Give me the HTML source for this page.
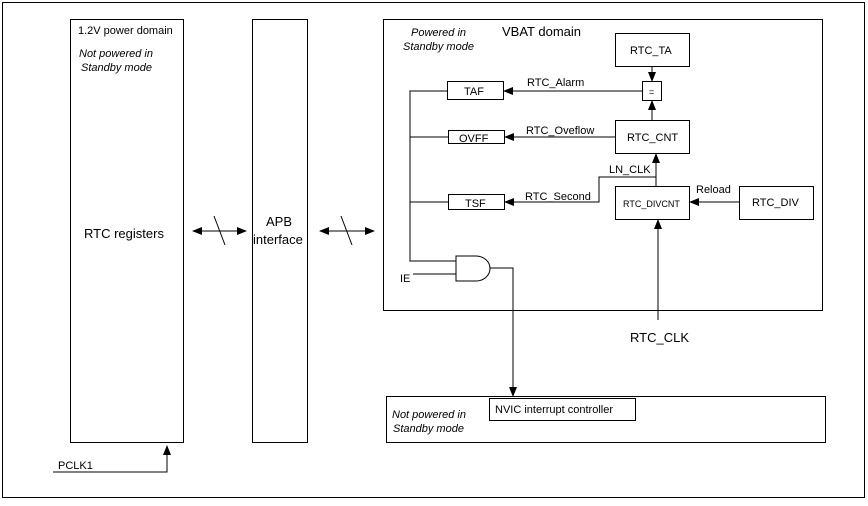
<!DOCTYPE html>
<html><head><meta charset="utf-8"><style>
html,body{margin:0;padding:0;background:#fff}
svg text{font-family:"Liberation Sans",sans-serif;fill:#000}
</style></head><body>
<svg width="868" height="501" xmlns="http://www.w3.org/2000/svg">
<defs>
<marker id="a" markerWidth="10" markerHeight="8" refX="9" refY="4" orient="auto-start-reverse" markerUnits="userSpaceOnUse"><path d="M0,0 L10,4 L0,8z" fill="#000"/></marker>
</defs>
<g fill="none" stroke="#000" stroke-width="1">
<rect x="2.5" y="2.5" width="862" height="495"/>
<rect x="70.5" y="19.5" width="113" height="423"/>
<rect x="252.5" y="19.5" width="55" height="423"/>
<rect x="383.5" y="19.5" width="439" height="291"/>
<rect x="386.5" y="396.5" width="439" height="46"/>
<rect x="489.5" y="398.5" width="146" height="22"/>
<rect x="615.5" y="33.5" width="74" height="33"/>
<rect x="642.5" y="81.5" width="19" height="19"/>
<rect x="615.5" y="120.5" width="74" height="33"/>
<rect x="615.5" y="186.5" width="74" height="33"/>
<rect x="739.5" y="186.5" width="74" height="33"/>
<rect x="447.5" y="81.5" width="56" height="18"/>
<rect x="448.5" y="130.5" width="56" height="13"/>
<rect x="448.5" y="194.5" width="56" height="15"/>
<line x1="193" y1="231" x2="246" y2="231" marker-start="url(#a)" marker-end="url(#a)"/>
<line x1="214" y1="216" x2="225" y2="245"/>
<line x1="320" y1="231" x2="374" y2="231" marker-start="url(#a)" marker-end="url(#a)"/>
<line x1="341" y1="216" x2="352" y2="245"/>
<polyline points="53,472 167,472 167,446" marker-end="url(#a)"/>
<line x1="652" y1="67" x2="652" y2="81" marker-end="url(#a)"/>
<line x1="652" y1="120" x2="652" y2="101" marker-end="url(#a)"/>
<line x1="642" y1="91" x2="504" y2="91" marker-end="url(#a)"/>
<line x1="615" y1="137" x2="505" y2="137" marker-end="url(#a)"/>
<line x1="656" y1="186" x2="656" y2="154" marker-end="url(#a)"/>
<polyline points="656,177 599,177 599,202 505,202" marker-end="url(#a)"/>
<line x1="739" y1="202" x2="690" y2="202" marker-end="url(#a)"/>
<line x1="658" y1="320" x2="658" y2="220" marker-end="url(#a)"/>
<polyline points="447,91 410,91 410,261 456,261"/>
<line x1="410" y1="137" x2="448" y2="137"/>
<line x1="410" y1="202" x2="448" y2="202"/>
<line x1="413" y1="274" x2="456" y2="274"/>
<path d="M456,256 L476,256 A14,12.5 0 0 1 476,281 L456,281 Z"/>
<polyline points="490,268 513,268 513,396" marker-end="url(#a)"/>
</g>
<g font-size="11">
<text x="78" y="34">1.2V power domain</text>
<text x="79" y="57" font-style="italic">Not powered in</text>
<text x="81" y="71" font-style="italic">Standby mode</text>
<text x="84" y="238" font-size="13">RTC registers</text>
<text x="266" y="226" font-size="13">APB</text>
<text x="253" y="244" font-size="13">interface</text>
<text x="58" y="469">PCLK1</text>
<text x="411" y="36" font-style="italic">Powered in</text>
<text x="403" y="50" font-style="italic">Standby mode</text>
<text x="502" y="36" font-size="13">VBAT domain</text>
<text x="630" y="54">RTC_TA</text>
<text x="649" y="95" font-size="9">=</text>
<text x="627" y="141">RTC_CNT</text>
<text x="623" y="207" font-size="9">RTC_DIVCNT</text>
<text x="752" y="206">RTC_DIV</text>
<text x="464" y="95">TAF</text>
<text x="459" y="142">OVFF</text>
<text x="465" y="207">TSF</text>
<text x="527" y="86">RTC_Alarm</text>
<text x="526" y="134">RTC_Oveflow</text>
<text x="525" y="200">RTC_Second</text>
<text x="609" y="173">LN_CLK</text>
<text x="696" y="193">Reload</text>
<text x="400" y="282">IE</text>
<text x="630" y="342" font-size="13">RTC_CLK</text>
<text x="392" y="418" font-style="italic">Not powered in</text>
<text x="393" y="432" font-style="italic">Standby mode</text>
<text x="495" y="413">NVIC interrupt controller</text>
</g>
</svg>
</body></html>
